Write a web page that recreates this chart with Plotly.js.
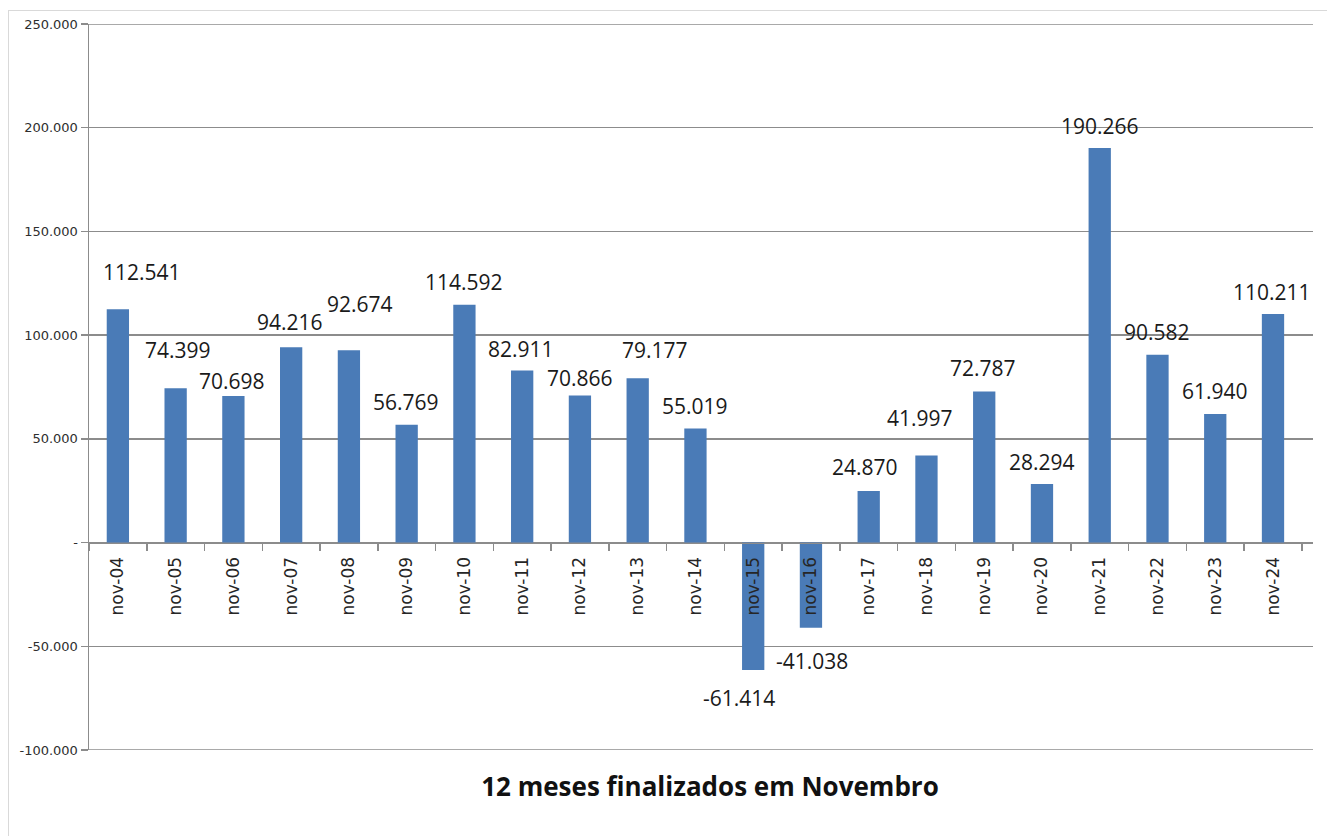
<!DOCTYPE html>
<html>
<head>
<meta charset="utf-8">
<script src="https://cdn.plot.ly/plotly-3.0.1.min.js"></script>
<style>
  html, body { margin: 0; padding: 0; background: #ffffff; }
  #chart { width: 1327px; height: 836px; }
  #frame { position: absolute; left: 8px; top: 10px; width: 1340px; height: 850px;
           border: 1px solid #d9d9d9; pointer-events: none; }
</style>
</head>
<body>
<div id="chart"></div>
<div id="frame"></div>
<script>
// ---- data ----
const categories = ["nov-04","nov-05","nov-06","nov-07","nov-08","nov-09","nov-10","nov-11","nov-12","nov-13","nov-14",
                    "nov-15","nov-16","nov-17","nov-18","nov-19","nov-20","nov-21","nov-22","nov-23","nov-24"];
const values = [112541, 74399, 70698, 94216, 92674, 56769, 114592, 82911, 70866, 79177, 55019,
                -61414, -41038, 24870, 41997, 72787, 28294, 190266, 90582, 61940, 110211];
const yTickVals = [-100000, -50000, 0, 50000, 100000, 150000, 200000, 250000];
const yTickText = ["-100.000", "-50.000", "-", "50.000", "100.000", "150.000", "200.000", "250.000"];
const chartTitle = "12 meses finalizados em Novembro";

// ---- label nudges (pixels, layout only) ----
const labelDx = [24, 2, -1, -1, 11, -1, 0, -1, 0, 17, 0, -14, 1, -4, -6, -1, 0, 0, 0, 0, -1];
const labelDy = [37, 38, 15, 25, 46, 23, 23, 22, 18, 28, 22, -28, -33, 24, 37, 24, 22, 22, 23, 23, 22];

function fmt(v) {
  const s = Math.abs(v).toString().replace(/\B(?=(\d{3})+(?!\d))/g, ".");
  return (v < 0 ? "-" : "") + s;
}

const gridColor = "#8c8c8c";

const trace = {
  type: "bar",
  x: categories,
  y: values,
  marker: { color: "#4a7bb7", line: { width: 0 } },
  hoverinfo: "x+y"
};

const annotations = categories.map((c, i) => ({
  x: c, y: values[i], xref: "x", yref: "y",
  text: fmt(values[i]),
  showarrow: false,
  xanchor: "center", yanchor: "middle",
  xshift: labelDx[i], yshift: labelDy[i],
  font: { family: "Open Sans", size: 21, color: "#1a1a1a" }
}));

// gridlines at the two range ends (Plotly skips those)
const edgeGrid = [yTickVals[0], yTickVals[yTickVals.length - 1]].map(v => ({
  type: "line", xref: "paper", yref: "y", x0: 0, x1: 1, y0: v, y1: v,
  line: { color: gridColor, width: 1.5 }, layer: "below"
}));

const layout = {
  width: 1327, height: 836,
  paper_bgcolor: "#ffffff", plot_bgcolor: "#ffffff",
  margin: { l: 89, r: 14, t: 24, b: 86 },
  showlegend: false,
  bargap: 0.614,
  title: {
    text: "<b>" + chartTitle + "</b>",
    xref: "container", yref: "container",
    x: 710 / 1327, y: 1 - 787 / 836, xanchor: "center", yanchor: "middle",
    font: { family: "Open Sans", size: 26, color: "#111111" }
  },
  xaxis: {
    type: "category",
    anchor: "free",
    position: 100 / 350,
    showline: true, linecolor: gridColor, linewidth: 1.5,
    ticks: "outside", tickson: "boundaries", ticklen: 7, tickcolor: gridColor, tickwidth: 1.5,
    tickangle: -90,
    ticklabelstandoff: 6,
    tickfont: { family: "DejaVu Sans", size: 17, color: "#262626" },
    showgrid: false, zeroline: false
  },
  yaxis: {
    range: [-100000, 250000],
    tickmode: "array", tickvals: yTickVals, ticktext: yTickText,
    showline: true, linecolor: gridColor, linewidth: 1.5,
    ticks: "outside", ticklen: 7, tickcolor: gridColor, tickwidth: 1.5,
    showgrid: true, gridcolor: gridColor, gridwidth: 1.5,
    zeroline: false,
    tickfont: { family: "DejaVu Sans", size: 13, color: "#2e2e2e" }
  },
  shapes: edgeGrid,
  annotations: annotations
};

Plotly.newPlot("chart", [trace], layout, { displayModeBar: false, staticPlot: true });
</script>
</body>
</html>
